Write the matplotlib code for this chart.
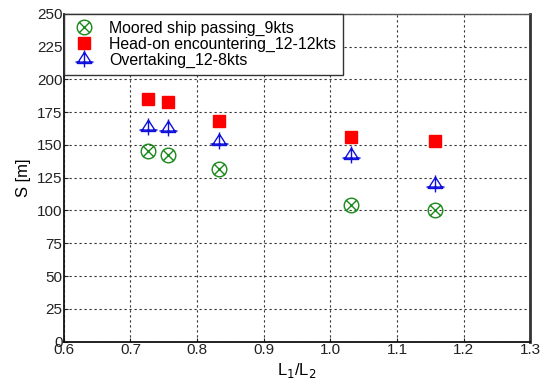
import matplotlib
matplotlib.use("Agg")
import matplotlib.pyplot as plt
from matplotlib.path import Path
import numpy as np

plt.rcParams["font.family"] = ["Liberation Sans", "DejaVu Sans"]

# length ratio L1/L2 for each case
ratio = [0.726, 0.757, 0.833, 1.031, 1.157]

moored_9kts = [145, 142, 132, 104, 100]
headon_12_12 = [185, 183, 168, 156, 153]
overtaking_12_8 = [164, 163, 153, 142, 120]

# circle with an X through it
circ = Path.unit_circle()
k = 0.72
xmark = Path([(-k, -k), (k, k), (-k, k), (k, -k)],
             [Path.MOVETO, Path.LINETO, Path.MOVETO, Path.LINETO])
circle_x = Path.make_compound_path(circ, xmark)

# triangle with a cross through it
tri = Path([(-1, -0.55), (1, -0.55), (0, 1.0), (-1, -0.55)],
           [Path.MOVETO, Path.LINETO, Path.LINETO, Path.CLOSEPOLY])
cross = Path([(0, 1.25), (0, -1.1), (-1.25, -0.35), (1.25, -0.35)],
             [Path.MOVETO, Path.LINETO, Path.MOVETO, Path.LINETO])
tri_cross = Path.make_compound_path(tri, cross)

fig = plt.figure(figsize=(5.5, 3.83), dpi=100)
ax = fig.add_axes([0.116, 0.108, 0.848, 0.856])

ax.plot(ratio, moored_9kts, linestyle="none", marker=circle_x, markersize=10.5,
        markerfacecolor="none", markeredgecolor="#1a8a1a", markeredgewidth=1.0,
        label="Moored ship passing_9kts")
ax.plot(ratio, headon_12_12, linestyle="none", marker="s", markersize=9,
        color="#ff0000", markeredgecolor="#ff0000",
        label="Head-on encountering_12-12kts")
ax.plot(ratio, overtaking_12_8, linestyle="none", marker=tri_cross, markersize=13,
        markerfacecolor="none", markeredgecolor="#1010dd", markeredgewidth=1.0,
        label="Overtaking_12-8kts")

ax.set_xlim(0.6, 1.3)
ax.set_ylim(0, 250)
ax.set_xticks(np.arange(0.6, 1.31, 0.1))
ax.set_xticklabels(["0.6", "0.7", "0.8", "0.9", "1.0", "1.1", "1.2", "1.3"])
ax.set_yticks(np.arange(0, 251, 25))

ax.grid(True, linestyle=(0, (2, 2.5)), color="#333333", linewidth=0.8)
ax.tick_params(direction="in", length=3, labelsize=11, pad=1, colors="#222222")
ax.tick_params(axis="x", pad=1)

for side in ("left", "bottom"):
    ax.spines[side].set_linewidth(1.3)
    ax.spines[side].set_color("#111111")
ax.spines["right"].set_linewidth(2.0)
ax.spines["right"].set_color("#333333")
ax.spines["top"].set_linewidth(1.0)
ax.spines["top"].set_color("#555555")

ax.set_xlabel("L$_1$/L$_2$", fontsize=12, labelpad=3)
ax.set_ylabel("S [m]", fontsize=12, labelpad=4)

leg = ax.legend(loc="upper left", bbox_to_anchor=(0.0, 1.0), borderaxespad=0,
                fontsize=11.4, frameon=True, fancybox=False, framealpha=1,
                edgecolor="#333333", handlelength=1.6, handletextpad=0.8,
                labelspacing=0.05, borderpad=0.45, markerscale=1.0)
leg.get_frame().set_linewidth(1.0)

fig.savefig("out.png", dpi=100)
